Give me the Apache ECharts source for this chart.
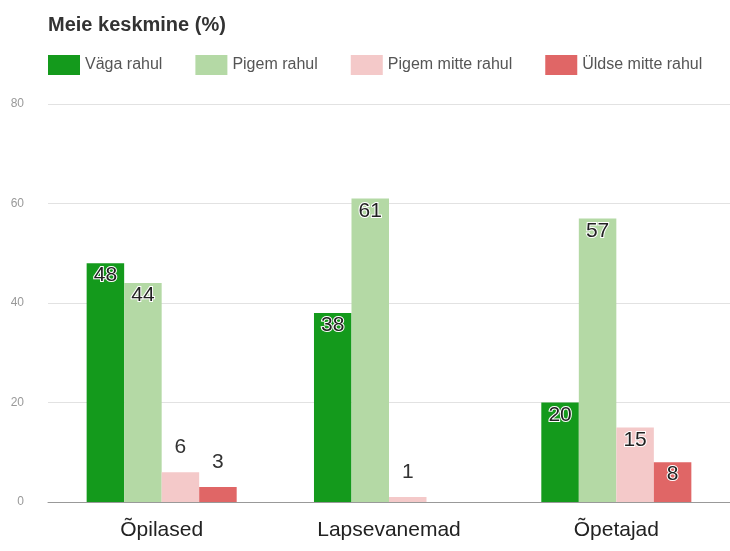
<!DOCTYPE html>
<html>
<head>
<meta charset="utf-8">
<script src="https://cdn.jsdelivr.net/npm/echarts@6/dist/echarts.min.js"></script>
<style>html,body{margin:0;padding:0;background:#fff}#c{width:730px;height:551px}</style>
</head>
<body>
<div id="c"></div>
<script>
const categories = ['Õpilased', 'Lapsevanemad', 'Õpetajad'];
const seriesNames = ['Väga rahul', 'Pigem rahul', 'Pigem mitte rahul', 'Üldse mitte rahul'];
const vagaRahul = [48, 38, 20];
const pigemRahul = [44, 61, 57];
const pigemMitteRahul = [6, 1, 15];
const uldseMitteRahul = [3, 0, 8];
const yTicks = [0, 20, 40, 60, 80];
const colors = ['#149a1c', '#b4d9a5', '#f4c9c9', '#e06666'];

const FONT = '"Liberation Sans", Arial, sans-serif';
const allData = [vagaRahul, pigemRahul, pigemMitteRahul, uldseMitteRahul];

function items(arr) {
  return arr.map(v => ({
    value: v,
    label: v >= 7
      ? { position: 'insideTop', distance: 2, color: '#222', textBorderColor: '#fff', textBorderWidth: 2 }
      : { position: 'top', distance: 14, color: '#333' }
  }));
}

const chart = echarts.init(document.getElementById('c'));
chart.setOption({
  animation: false,
  color: colors,
  title: {
    text: 'Meie keskmine (%)',
    left: 43, top: 10,
    textStyle: { fontFamily: FONT, fontSize: 20, fontWeight: 'bold', color: '#333' }
  },
  legend: {
    data: seriesNames,
    left: 43, top: 50,
    itemWidth: 32, itemHeight: 20, itemGap: 33,
    icon: 'rect',
    textStyle: { fontFamily: FONT, fontSize: 16, color: '#555' }
  },
  grid: { left: 48, right: 0, top: 104, bottom: 49, containLabel: false },
  xAxis: {
    type: 'category',
    data: categories,
    axisTick: { show: false },
    axisLine: { lineStyle: { color: '#999' } },
    axisLabel: { fontFamily: FONT, fontSize: 21, color: '#222', margin: 18 }
  },
  yAxis: {
    type: 'value',
    min: yTicks[0], max: yTicks[yTicks.length - 1], interval: 20,
    axisLine: { show: false },
    axisTick: { show: false },
    splitLine: { lineStyle: { color: '#e2e2e2' } },
    axisLabel: { fontFamily: FONT, fontSize: 12, color: '#999', margin: 24 }
  },
  series: allData.map((d, i) => ({
    name: seriesNames[i],
    type: 'bar',
    data: items(d),
    barGap: '0%',
    barCategoryGap: '34%',
    label: {
      show: true,
      fontFamily: FONT,
      fontSize: 21,
      formatter: p => p.value === 0 ? '' : String(p.value)
    }
  }))
});
</script>
</body>
</html>
